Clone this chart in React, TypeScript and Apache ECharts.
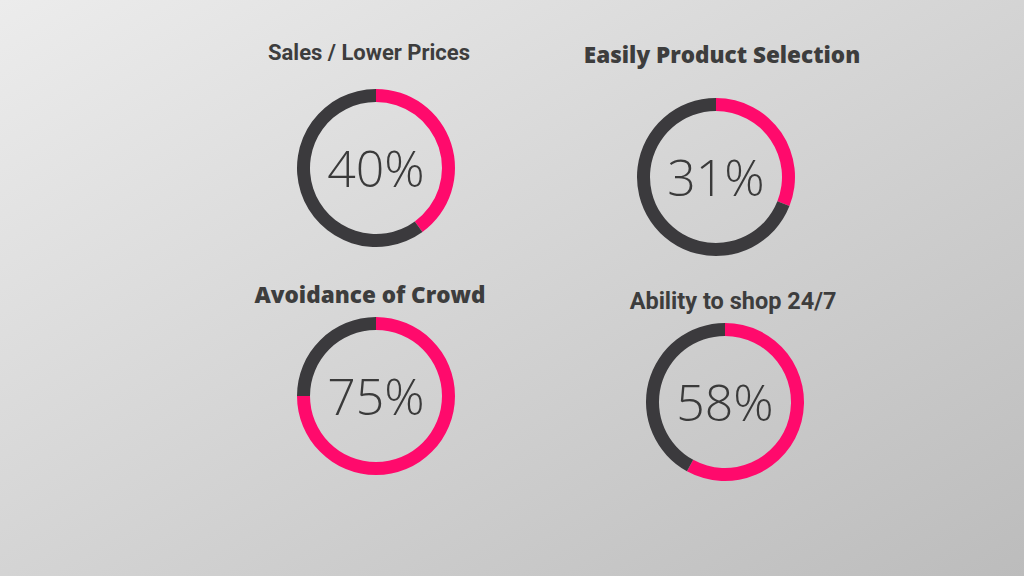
import * as echarts from "echarts";
import React, { useEffect, useRef } from "react";

// 数据
const titles = ["Sales / Lower Prices", "Easily Product Selection", "Avoidance of Crowd", "Ability to shop 24/7"];
const percents = [40, 31, 75, 58];
const centers: [number, number][] = [
  [376, 168],
  [716, 177],
  [376, 396],
  [725, 402],
];
const titlePos: [number, number][] = [
  [369, 52],
  [722, 54],
  [370, 294],
  [733, 301],
];
const titleFonts = ["Roboto", "Open Sans", "Open Sans", "Roboto"];
const titleSizes = [22, 22.5, 22.5, 23.5];

const PINK = "#ff0a6c";
const DARK = "#3b3a3d";

export default function App() {
  const chartRef = useRef<HTMLDivElement>(null);

  useEffect(() => {
    if (!chartRef.current) return;
    document.body.style.margin = "0";
    const myChart = echarts.init(chartRef.current, null, { renderer: "svg" });

    const series = percents.map((p, i) => ({
      type: "pie",
      center: centers[i],
      radius: [66, 79],
      startAngle: 90,
      clockwise: true,
      silent: true,
      emphasis: { disabled: true },
      labelLine: { show: false },
      data: [
        {
          value: p,
          itemStyle: { color: PINK },
          label: {
            show: true,
            position: "center",
            formatter: "{c}%",
            fontFamily: "Open Sans",
            fontWeight: 300,
            fontSize: 50,
            color: "#3a3a3a",
          },
        },
        { value: 100 - p, itemStyle: { color: DARK }, label: { show: false } },
      ],
    }));

    const option = {
      animation: false,
      backgroundColor: new echarts.graphic.LinearGradient(0, 0, 1, 1, [
        { offset: 0, color: "#ececec" },
        { offset: 1, color: "#bcbcbc" },
      ]),
      graphic: titles.map((t, i) => ({
        type: "text",
        x: titlePos[i][0],
        y: titlePos[i][1],
        style: {
          text: t,
          textAlign: "center",
          textVerticalAlign: "middle",
          fontFamily: titleFonts[i],
          fontWeight: titleFonts[i] === "Roboto" ? "bold" : 800,
          fontSize: titleSizes[i],
          fill: "#3d3d3d",
        },
      })),
      series,
    };
    myChart.setOption(option);

    return () => {
      myChart.dispose();
    };
  }, []);

  return <div ref={chartRef} style={{ width: "1024px", height: "576px" }}></div>;
}
